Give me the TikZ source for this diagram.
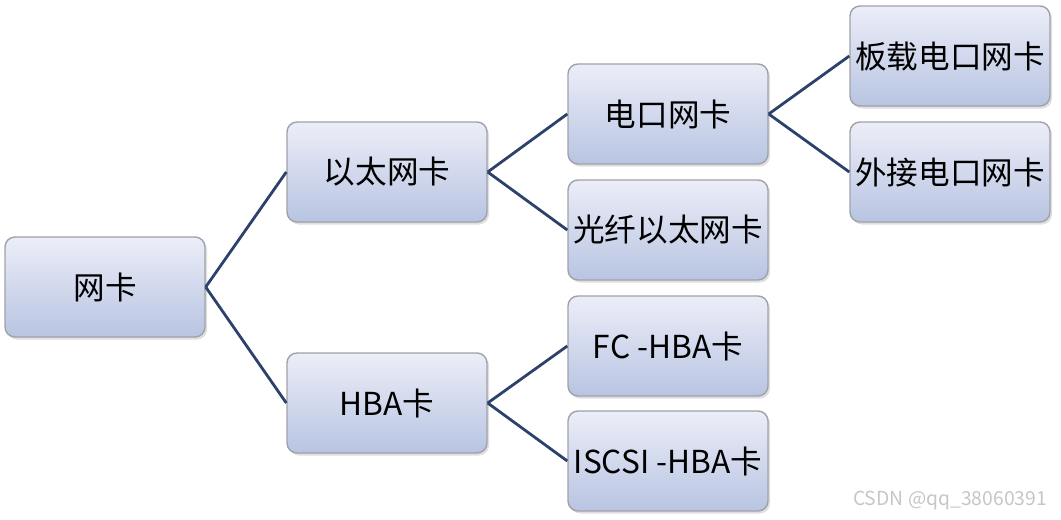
\documentclass[tikz,border=0pt]{standalone}
\usepackage{fontspec}
\setmainfont{Noto Sans CJK SC}
\usepackage{xcolor}
\usetikzlibrary{shadows}
\definecolor{linkblue}{RGB}{44,66,106}
\definecolor{boxtop}{RGB}{236,238,248}
\definecolor{boxbot}{RGB}{184,196,226}
\definecolor{boxline}{RGB}{160,162,170}
\tikzset{
  card/.style={draw=boxline, line width=0.8pt, rounded corners=0.2cm,
    top color=boxtop, bottom color=boxbot,
    minimum width=4cm, minimum height=2cm, inner sep=0pt,
    font=\fontsize{18}{20}\selectfont,
    drop shadow={shadow xshift=0.04cm, shadow yshift=-0.05cm, opacity=0.25}},
  link/.style={draw=linkblue, line width=1.6pt}
}
\begin{document}
\begin{tikzpicture}
    \useasboundingbox (0,0) rectangle (21.22,10.38);
    \node[card] (wk) at (2.10,4.64) {网卡};
    \node[card] (ytwk) at (7.74,6.94) {以太网卡};
    \node[card] (hba) at (7.74,2.32) {HBA卡};
    \node[card] (dkwk) at (13.36,8.10) {电口网卡};
    \node[card] (gxwk) at (13.36,5.78) {光纤以太网卡};
    \node[card] (fchba) at (13.36,3.46) {FC -HBA卡};
    \node[card] (iscsi) at (13.36,1.16) {ISCSI -HBA卡};
    \node[card] (bzwk) at (19.00,9.26) {板载电口网卡};
    \node[card] (wjwk) at (19.00,6.94) {外接电口网卡};
    \draw[link] (wk.east) -- (ytwk.west);
    \draw[link] (wk.east) -- (hba.west);
    \draw[link] (ytwk.east) -- (dkwk.west);
    \draw[link] (ytwk.east) -- (gxwk.west);
    \draw[link] (hba.east) -- (fchba.west);
    \draw[link] (hba.east) -- (iscsi.west);
    \draw[link] (dkwk.east) -- (bzwk.west);
    \draw[link] (dkwk.east) -- (wjwk.west);
    \node[text=gray!45, font=\fontsize{11}{12}\selectfont] (mark) at (19.0,0.38) {CSDN @qq\_38060391};
\end{tikzpicture}
\end{document}
